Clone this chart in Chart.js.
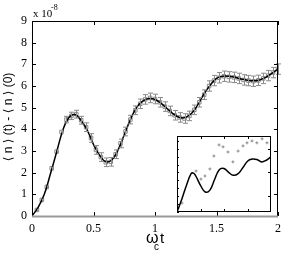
<!DOCTYPE html>
<html><head><meta charset="utf-8">
<script src="https://cdn.jsdelivr.net/npm/chart.js@4.4.1/dist/chart.umd.min.js"></script>
<style>
html,body{margin:0;padding:0;background:#fff;}
#wrap{position:relative;width:283px;height:261px;}
#main{position:absolute;left:0;top:0;}
#inset{position:absolute;left:170px;top:130px;}
</style></head>
<body><div id="wrap"><canvas id="main" width="283" height="261"></canvas><canvas id="inset" width="110" height="90"></canvas></div>
<script>
// ---- main chart data (units of 1e-8) ----
const curveT = [0,0.05,0.1,0.15,0.2,0.25,0.3,0.35,0.4,0.45,0.5,0.55,0.6,0.65,0.7,0.75,0.8,0.85,0.9,0.95,1.0,1.05,1.1,1.15,1.2,1.25,1.3,1.35,1.4,1.45,1.5,1.55,1.6,1.65,1.7,1.75,1.8,1.85,1.9,1.95,2.0];
const curveV = [0,0.4,1.0,1.95,2.95,3.95,4.55,4.68,4.4,3.95,3.3,2.8,2.5,2.6,3.05,3.75,4.45,5.0,5.3,5.42,5.38,5.2,4.95,4.7,4.55,4.55,4.75,5.15,5.65,6.05,6.35,6.45,6.45,6.4,6.32,6.27,6.24,6.28,6.4,6.58,6.78];
const dataT = [0.04,0.08,0.12,0.16,0.20,0.24,0.28,0.32,0.36,0.40,0.44,0.48,0.52,0.56,0.60,0.64,0.68,0.72,0.76,0.80,0.84,0.88,0.92,0.96,1.00,1.04,1.08,1.12,1.16,1.20,1.24,1.28,1.32,1.36,1.40,1.44,1.48,1.52,1.56,1.60,1.64,1.68,1.72,1.76,1.80,1.84,1.88,1.92,1.96,2.00];
const dataV = [0.28,0.74,1.34,2.2,2.97,3.88,4.45,4.62,4.7,4.42,4.1,3.6,3.05,2.72,2.48,2.5,2.85,3.35,3.9,4.45,4.88,5.18,5.38,5.45,5.4,5.25,5.05,4.85,4.65,4.55,4.5,4.62,4.9,5.25,5.6,6.0,6.25,6.38,6.45,6.42,6.4,6.35,6.28,6.25,6.22,6.26,6.35,6.48,6.62,6.78];
const dataErr = [0.05,0.06,0.07,0.08,0.1,0.12,0.15,0.17,0.18,0.18,0.2,0.2,0.2,0.2,0.2,0.2,0.2,0.2,0.2,0.2,0.2,0.22,0.22,0.22,0.22,0.22,0.22,0.22,0.22,0.22,0.22,0.22,0.22,0.22,0.22,0.24,0.24,0.24,0.24,0.24,0.24,0.24,0.24,0.24,0.24,0.24,0.24,0.24,0.24,0.24];
const xTicks = [0,0.5,1,1.5,2];
const yTicks = [0,1,2,3,4,5,6,7,8,9];

// ---- inset data ----
const insetCurveX = [0,0.2,0.4,0.6,0.7,0.8,1.0,1.2,1.4,1.6,1.8,2.0,2.2,2.4,2.6,2.8,3.0,3.2,3.4,3.6,3.8,4.0];
const insetCurveY = [-0.68,-0.15,0.45,0.95,0.97,0.85,0.45,0.17,0.25,0.7,1.12,1.17,1.0,0.88,0.95,1.2,1.48,1.57,1.55,1.45,1.52,1.66];
const insetPtsX = [0.21,0.81,1.02,1.19,1.40,1.57,1.79,1.96,2.17,2.38,2.60,2.81,2.98,3.19,3.40,3.62,3.83];
const insetPtsY = [-0.30,1.06,0.72,0.85,1.15,1.70,2.17,2.09,1.87,1.45,1.91,2.13,2.26,2.34,2.26,2.43,2.26];

const SERIF = '"Liberation Serif","DejaVu Serif",serif';
const SANS = '"Liberation Sans","DejaVu Sans",sans-serif';

const errorBars = {
  id:'errorBars',
  afterDatasetsDraw(chart){
    const ds = chart.data.datasets[1];
    const xs = chart.scales.x, ys = chart.scales.y, ctx = chart.ctx;
    ctx.save(); ctx.strokeStyle = '#8a8a8a'; ctx.lineWidth = 1;
    ds.data.forEach((p,i)=>{
      const e = dataErr[i];
      const px = Math.round(xs.getPixelForValue(p.x))+0.5;
      const y1 = ys.getPixelForValue(p.y-e), y2 = ys.getPixelForValue(p.y+e);
      ctx.beginPath();
      ctx.moveTo(px,y1); ctx.lineTo(px,y2);
      if (e>=0.15){ ctx.moveTo(px-2.5,y1); ctx.lineTo(px+2.5,y1); ctx.moveTo(px-2.5,y2); ctx.lineTo(px+2.5,y2); }
      ctx.stroke();
    });
    ctx.restore();
  }
};

const frame = {
  id:'frame',
  afterDraw(chart){
    const ctx = chart.ctx, a = chart.chartArea, xs = chart.scales.x, ys = chart.scales.y;
    ctx.save();
    ctx.strokeStyle = '#000'; ctx.lineWidth = 1;
    ctx.beginPath();
    ctx.moveTo(a.left+0.5, a.bottom); ctx.lineTo(a.left+0.5, a.top+0.5); ctx.lineTo(a.right-0.5, a.top+0.5); ctx.lineTo(a.right-0.5, a.bottom);
    xTicks.forEach(v=>{ const px=Math.round(xs.getPixelForValue(v))+0.5; ctx.moveTo(px,a.top); ctx.lineTo(px,a.top+4); ctx.moveTo(px,a.bottom); ctx.lineTo(px,a.bottom-4); });
    yTicks.forEach(v=>{ const py=Math.round(ys.getPixelForValue(v))+0.5; ctx.moveTo(a.left,py); ctx.lineTo(a.left+4,py); ctx.moveTo(a.right,py); ctx.lineTo(a.right-4,py); });
    ctx.stroke();
    ctx.strokeStyle = '#999'; ctx.lineWidth = 2;
    ctx.beginPath(); ctx.moveTo(a.left, a.bottom+0.5); ctx.lineTo(a.right, a.bottom+0.5); ctx.stroke();
    // y title
    ctx.fillStyle = '#000';
    ctx.save(); ctx.translate(9, 117); ctx.rotate(-Math.PI/2);
    ctx.font = '12px '+SANS; ctx.textAlign='center'; ctx.textBaseline='middle';
    ctx.fillText('\u27E8 n \u27E9 (t) - \u27E8 n \u27E9 (0)', 0, 0);
    ctx.restore();
    // exponent label
    ctx.font = '11px '+SERIF; ctx.textAlign='left'; ctx.textBaseline='alphabetic';
    ctx.fillText('x 10', 33, 17);
    ctx.font = '8px '+SERIF; ctx.fillText('-8', 51, 10);
    // x title
    ctx.font = '16px '+SANS; ctx.fillText('\u03C9', 146, 243);
    ctx.font = '10px '+SANS; ctx.fillText('c', 154, 250);
    ctx.font = '15px '+SANS; ctx.fillText('t', 160, 243);
    ctx.restore();
  }
};

new Chart(document.getElementById('main'), {
  type:'line',
  data:{ datasets:[
    { data: curveT.map((t,i)=>({x:t,y:curveV[i]})), borderColor:'#000', borderWidth:1.5, pointRadius:0, tension:0.4, fill:false, order:0 },
    { data: dataT.map((t,i)=>({x:t,y:dataV[i]})), showLine:false, pointStyle:'rect', pointRadius:2.5, borderColor:'#888', backgroundColor:'rgba(0,0,0,0)', borderWidth:1, order:1 }
  ]},
  options:{
    responsive:false, animation:false, devicePixelRatio:1,
    layout:{padding:{left:0,right:2,top:21,bottom:0}},
    plugins:{legend:{display:false}, tooltip:{enabled:false}},
    scales:{
      x:{ type:'linear', min:0, max:2,
        afterBuildTicks(s){ s.ticks = xTicks.map(v=>({value:v})); },
        afterFit(s){ s.height = 45; s.paddingLeft = 0; s.paddingRight = 0; },
        grid:{display:false, drawTicks:false}, border:{display:false},
        ticks:{ padding:6, color:'#000', font:{family:SERIF, size:12}, maxRotation:0, callback:v=>String(v) } },
      y:{ type:'linear', min:0, max:9,
        afterBuildTicks(s){ s.ticks = yTicks.map(v=>({value:v})); },
        afterFit(s){ s.width = 32; s.paddingTop = 0; s.paddingBottom = 0; },
        grid:{display:false, drawTicks:false}, border:{display:false},
        ticks:{ padding:5, color:'#000', font:{family:SERIF, size:12}, callback:v=>String(v) } }
    }
  },
  plugins:[errorBars, frame]
});

const insetFrame = {
  id:'insetFrame',
  beforeDraw(chart){ const a=chart.chartArea, ctx=chart.ctx; ctx.save(); ctx.fillStyle='#fff'; ctx.fillRect(a.left,a.top,a.right-a.left,a.bottom-a.top); ctx.restore(); },
  afterDraw(chart){
    const ctx=chart.ctx, a=chart.chartArea, xs=chart.scales.x, ys=chart.scales.y;
    ctx.save(); ctx.strokeStyle='#000'; ctx.lineWidth=1;
    ctx.strokeRect(a.left+0.5,a.top+0.5,a.right-a.left-1,a.bottom-a.top-1);
    ctx.beginPath();
    [1,2,3].forEach(v=>{ const px=Math.round(xs.getPixelForValue(v))+0.5; ctx.moveTo(px,a.bottom); ctx.lineTo(px,a.bottom-3); ctx.moveTo(px,a.top); ctx.lineTo(px,a.top+3); });
    [0,1,2].forEach(v=>{ const py=Math.round(ys.getPixelForValue(v))+0.5; ctx.moveTo(a.right,py); ctx.lineTo(a.right-3,py); });
    for (let k=-2;k<=7;k++){ const v=k/3; if(v<=-0.68||v>=2.55) continue; const py=Math.round(ys.getPixelForValue(v))+0.5; ctx.moveTo(a.left,py); ctx.lineTo(a.left+2,py); }
    ctx.stroke(); ctx.restore();
  }
};

new Chart(document.getElementById('inset'), {
  type:'line',
  data:{ datasets:[
    { data: insetCurveX.map((x,i)=>({x:x,y:insetCurveY[i]})), borderColor:'#000', borderWidth:1.5, pointRadius:0, tension:0.4, fill:false },
    { data: insetPtsX.map((x,i)=>({x:x,y:insetPtsY[i]})), showLine:false, pointStyle:'cross', pointRadius:1.5, borderColor:'#8a8a8a', borderWidth:1 }
  ]},
  options:{
    responsive:false, animation:false, devicePixelRatio:1,
    layout:{padding:{left:7,right:9,top:6,bottom:8}},
    plugins:{legend:{display:false}, tooltip:{enabled:false}},
    scales:{ x:{type:'linear', min:0, max:4, display:false}, y:{type:'linear', min:-0.68, max:2.55, display:false} }
  },
  plugins:[insetFrame]
});
</script></body></html>
